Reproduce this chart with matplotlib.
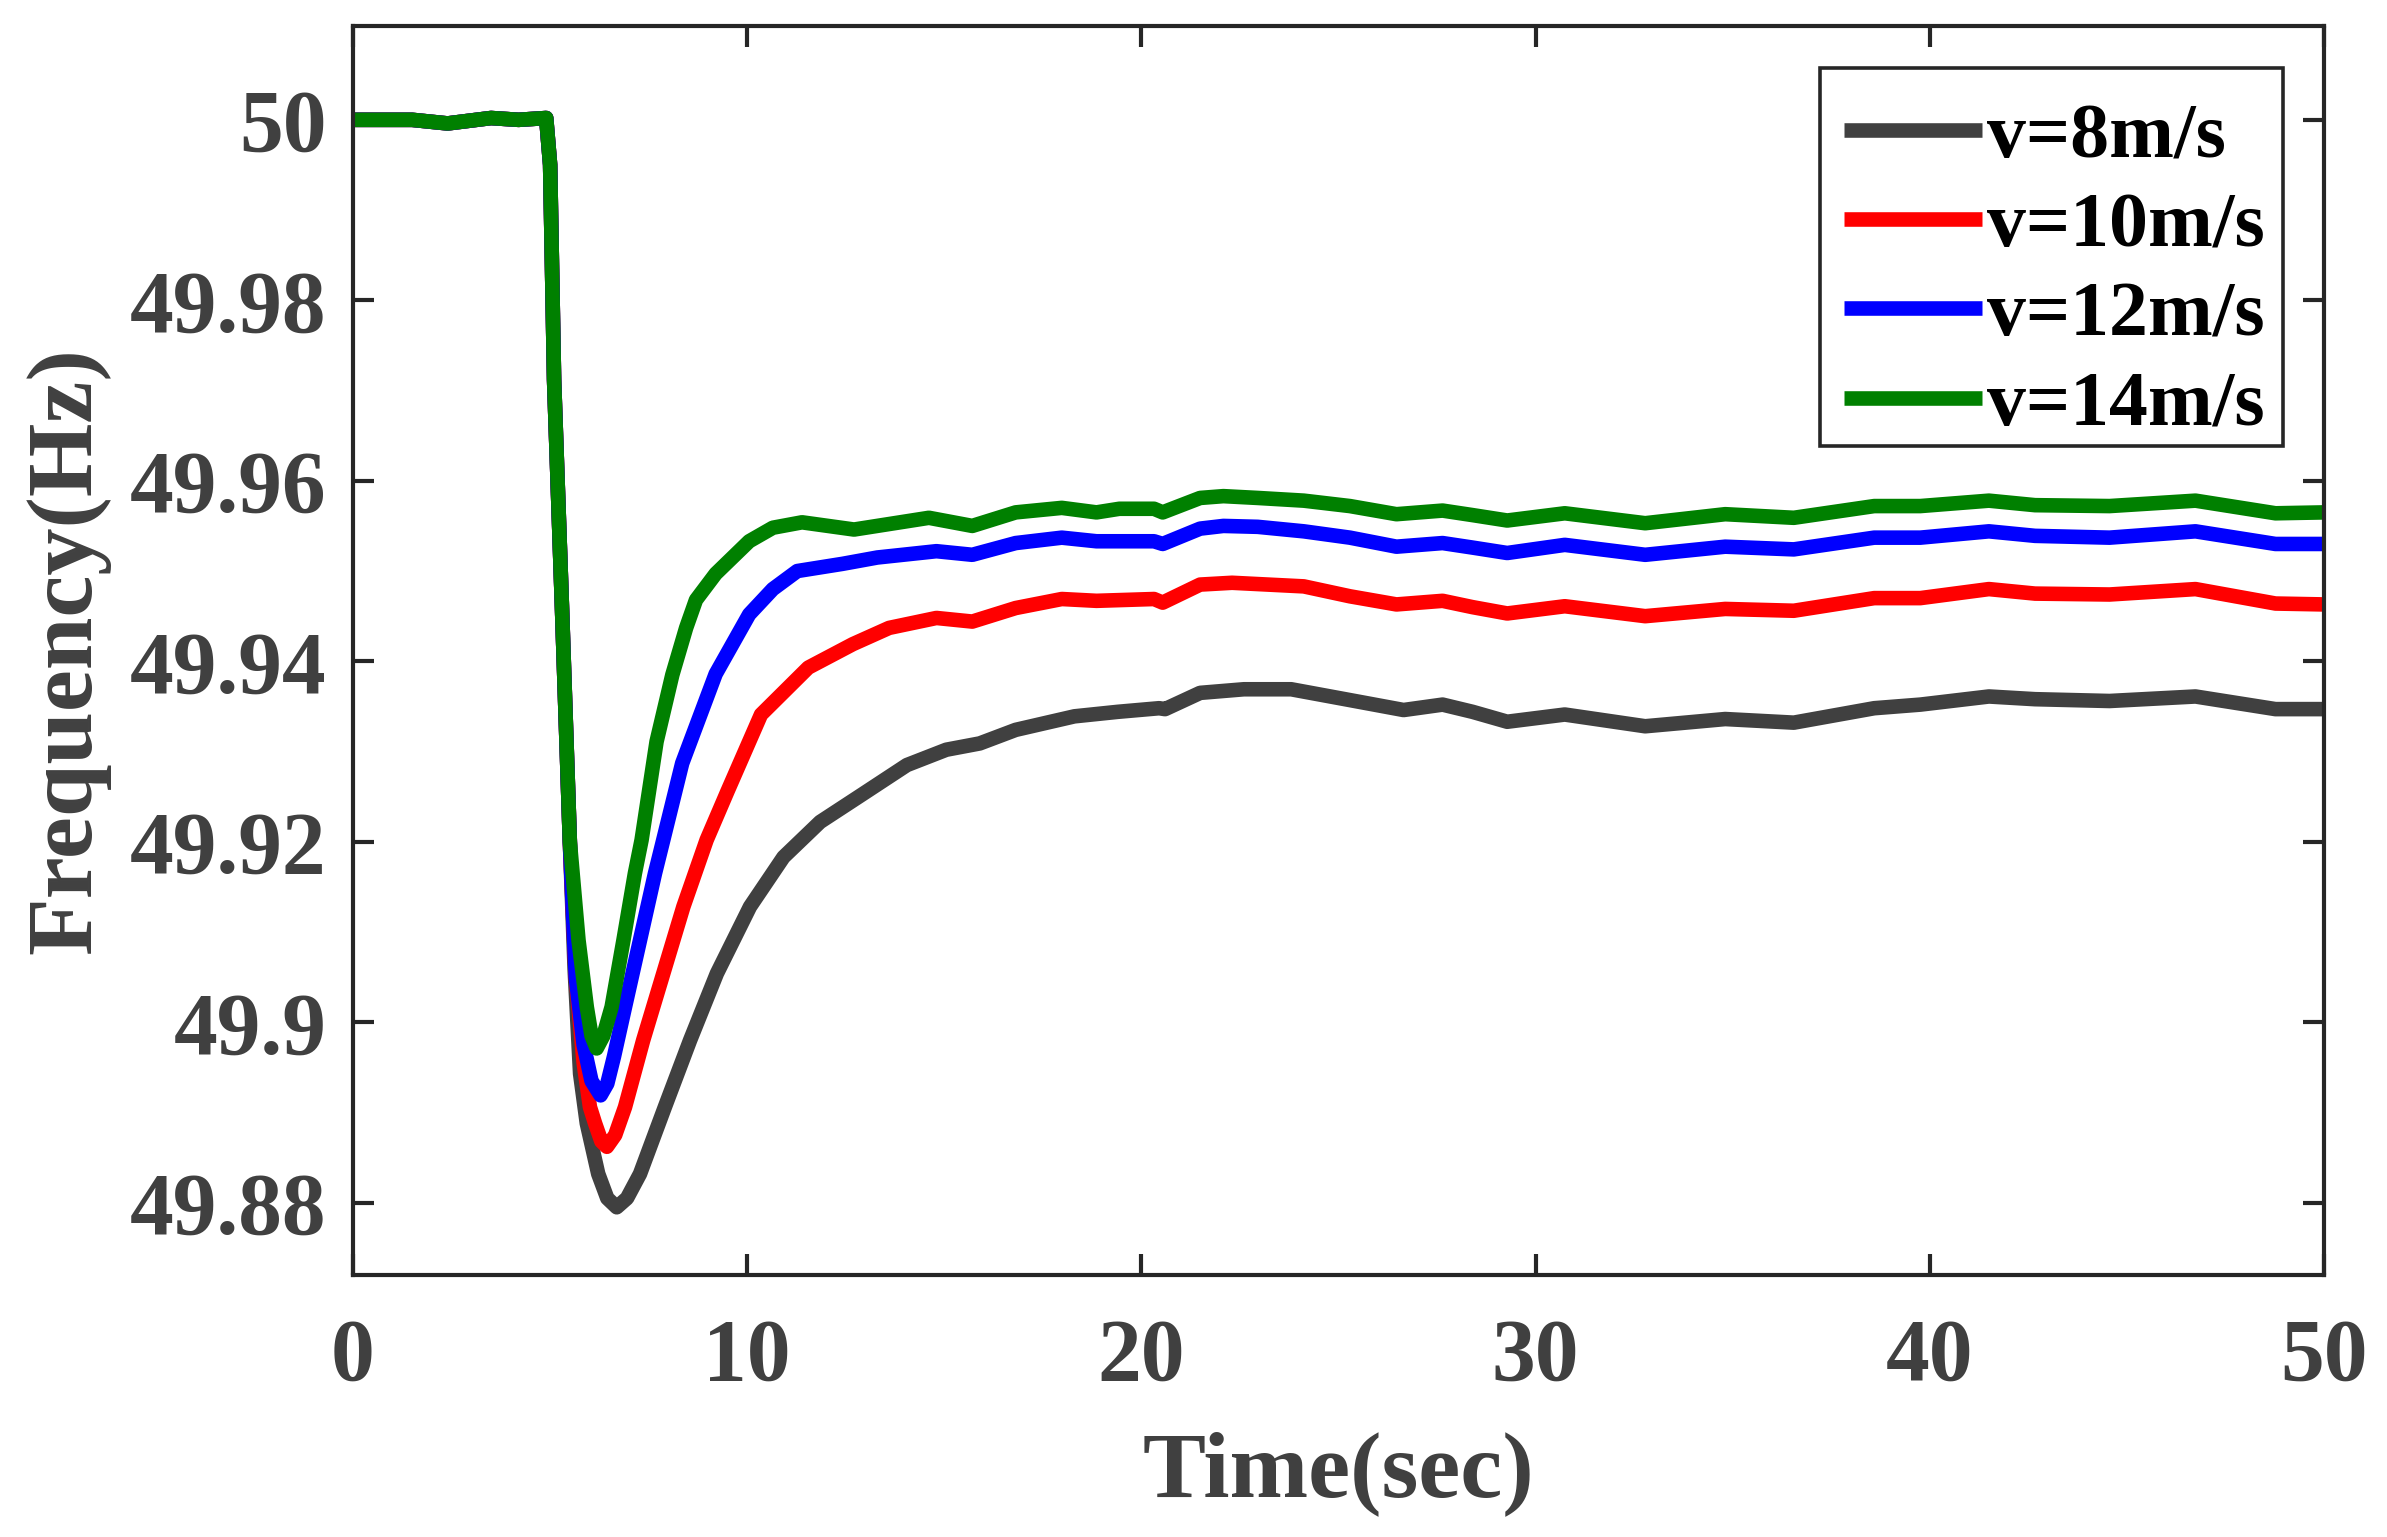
import numpy as np
import matplotlib.pyplot as plt
from matplotlib.patches import Rectangle
from matplotlib.ticker import FormatStrFormatter

# shared part: before the event and the start of the drop
t_pre = [0, 1.5, 2.4, 3.5, 4.2, 4.9, 5.0, 5.1, 5.3, 5.5]
f_pre = [50.0, 50.0, 49.9996, 50.0002, 50.0, 50.0002, 49.995, 49.9712, 49.946, 49.920]

# last part (from ~29 s)
t_tail = [29.28, 30.74, 32.78, 34.81, 36.55, 38.59, 39.76, 41.5, 42.67, 44.56, 46.74, 48.77, 50.0]

# v = 8 m/s
t_v8 = [5.62, 5.76, 5.93, 6.22, 6.45, 6.69, 6.95, 7.28, 7.91, 8.55, 9.23, 10.07, 10.92,
        11.85, 12.9, 14.05, 15.05, 15.9, 16.81, 18.3, 19.4, 20.45, 20.6, 21.49, 22.6,
        23.8, 25.29, 26.65, 27.64, 28.4]
f_v8 = [49.906, 49.8943, 49.8888, 49.8832, 49.8805, 49.8795, 49.8805, 49.8832, 49.8906,
        49.898, 49.9054, 49.9128, 49.9183, 49.9222, 49.9252, 49.9285, 49.9302,
        49.9309, 49.9324, 49.9339, 49.9344, 49.9348, 49.9347, 49.9365, 49.9369, 49.9369,
        49.9357, 49.9346, 49.9352, 49.9344]
f_v8_tail = [49.9333, 49.9341, 49.9328, 49.9336, 49.9332, 49.9348, 49.9352, 49.9361,
             49.9358, 49.9356, 49.9361, 49.9347, 49.9347]

# v = 10 m/s
t_v10 = [5.65, 5.85, 6.01, 6.14, 6.3, 6.44, 6.65, 6.9, 7.36, 7.87, 8.38, 8.97, 9.5, 10.35,
         11.55, 12.68, 13.6, 14.8, 15.71, 16.81, 17.98, 18.86, 20.32, 20.54, 21.49, 22.3,
         24.12, 25.29, 26.47, 27.64, 28.4]
f_v10 = [49.905, 49.8955, 49.8906, 49.8888, 49.8868, 49.8862, 49.8875, 49.8906, 49.898,
         49.9054, 49.9128, 49.9202, 49.9256, 49.9341, 49.9393, 49.9419, 49.9437, 49.9448,
         49.9444, 49.9459, 49.9469, 49.9467, 49.9469, 49.9465, 49.9485, 49.9487, 49.9483,
         49.9472, 49.9463, 49.9467, 49.946]
f_v10_tail = [49.9453, 49.9461, 49.945, 49.9458, 49.9456, 49.947, 49.947, 49.948, 49.9475,
              49.9474, 49.948, 49.9464, 49.9463]

# v = 12 m/s
t_v12 = [5.65, 5.85, 6.05, 6.28, 6.45, 6.62, 6.9, 7.28, 7.66, 7.87, 8.35, 9.2, 10.05, 10.65,
         11.27, 12.42, 13.3, 14.8, 15.71, 16.81, 17.98, 18.86, 20.32, 20.54, 21.49, 22.08,
         22.95, 24.12, 25.29, 26.47, 27.64, 28.4]
f_v12 = [49.905, 49.8975, 49.8935, 49.8919, 49.8932, 49.8962, 49.9017, 49.9091, 49.9165,
         49.9202, 49.9287, 49.9386, 49.9452, 49.948, 49.95, 49.9508, 49.9515, 49.9522,
         49.9518, 49.9531, 49.9537, 49.9533, 49.9533, 49.953, 49.9547, 49.955, 49.9549,
         49.9544, 49.9537, 49.9527, 49.9531, 49.9526]
f_v12_tail = [49.952, 49.9529, 49.9518, 49.9527, 49.9524, 49.9537, 49.9537, 49.9544,
              49.9539, 49.9537, 49.9544, 49.953, 49.953]

# v = 14 m/s
t_v14 = [5.72, 5.93, 6.05, 6.18, 6.35, 6.56, 6.86, 7.15, 7.32, 7.7, 8.1, 8.45, 8.7, 9.2,
         10.05, 10.65, 11.39, 12.71, 14.61, 15.71, 16.81, 17.98, 18.86, 19.44, 20.32, 20.54,
         21.49, 22.08, 22.95, 24.12, 25.29, 26.47, 27.64, 28.4]
f_v14 = [49.9091, 49.9017, 49.8985, 49.8971, 49.8985, 49.9017, 49.9091, 49.9165, 49.9202,
         49.9311, 49.9385, 49.9437, 49.9468, 49.9497, 49.9533, 49.9548, 49.9554, 49.9546,
         49.9559, 49.955, 49.9565, 49.957, 49.9565, 49.9569, 49.9569, 49.9565, 49.9581,
         49.9583, 49.9581, 49.9578, 49.9572, 49.9563, 49.9567, 49.9562]
f_v14_tail = [49.9556, 49.9564, 49.9553, 49.9563, 49.9559, 49.9572, 49.9572, 49.9578,
              49.9573, 49.9572, 49.9578, 49.9564, 49.9565]

labels = ['v=8m/s', 'v=10m/s', 'v=12m/s', 'v=14m/s']
colors = ['#404040', '#ff0000', '#0000ff', '#008000']

series = [(t_v8, f_v8, f_v8_tail), (t_v10, f_v10, f_v10_tail),
          (t_v12, f_v12, f_v12_tail), (t_v14, f_v14, f_v14_tail)]

plt.rcParams['font.family'] = ['Liberation Serif', 'DejaVu Serif']
plt.rcParams['font.weight'] = 'bold'

fig = plt.figure(figsize=(23.87, 15.37), dpi=100)
ax = fig.add_axes([0.1479, 0.1705, 0.8257, 0.8126])

for (tt, ff, ftail), lab, col in zip(series, labels, colors):
    t_all = t_pre + tt + t_tail
    f_all = f_pre + ff + ftail
    ax.plot(t_all, f_all, color=col, lw=10.5, label=lab,
            solid_joinstyle='round', solid_capstyle='butt')

ax.set_xlim(0, 50)
ax.set_ylim(49.872, 50.0104)
ax.set_xticks([0, 10, 20, 30, 40, 50])
ax.set_yticks([49.88, 49.9, 49.92, 49.94, 49.96, 49.98, 50.0])
ax.yaxis.set_major_formatter(FormatStrFormatter('%g'))

for s in ax.spines.values():
    s.set_linewidth(3)
    s.set_color('#262626')
ax.tick_params(direction='in', length=15, width=3, color='#262626',
               top=True, right=True, labelsize=63, labelcolor='#404040')
ax.tick_params(axis='x', pad=31)
ax.tick_params(axis='y', pad=19)

ax.set_xlabel('Time(sec)', fontsize=68, fontweight='bold', color='#404040', labelpad=23)
ax.set_ylabel('Frequency(Hz)', fontsize=68, fontweight='bold', color='#404040', labelpad=14)

# legend entries without frame, box drawn separately (MATLAB-like box)
leg = ax.legend(loc='upper right', bbox_to_anchor=(0.9787, 0.952), frameon=False,
                handlelength=1.77, handletextpad=0.07, borderaxespad=0,
                borderpad=0.22, labelspacing=0.227,
                prop={'weight': 'bold', 'size': 56})
for txt in leg.get_texts():
    txt.set_color('black')
box = Rectangle((0.7443, 0.6637), 0.2349, 0.3023, transform=ax.transAxes,
                fill=True, facecolor='white', edgecolor='#262626', lw=2.6, zorder=4)
ax.add_patch(box)
leg.set_zorder(5)

fig.savefig('out.png', dpi=100, facecolor='white')
